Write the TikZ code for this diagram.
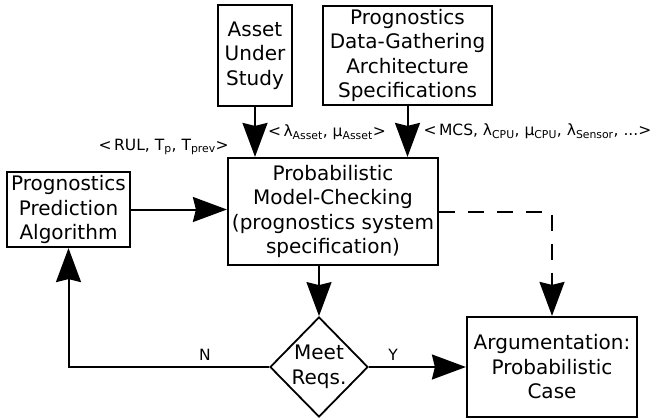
\documentclass[tikz,border=0pt]{standalone}
\usepackage{fontspec}
\setmainfont{DejaVu Sans}
\usetikzlibrary{arrows.meta, shapes.geometric}

\begin{document}
\begin{tikzpicture}[x=1pt, y=-1pt,
    box/.style={draw, line width=2.2pt, align=center, inner sep=1pt,
        font=\fontsize{20}{24.5}\selectfont},
    decision/.style={diamond, draw, line width=1.8pt, align=center, inner sep=0pt,
        font=\fontsize{20}{24.5}\selectfont},
    flow/.style={line width=2pt, -{Stealth[length=34pt, width=25pt, inset=3pt]}},
    lbl/.style={font=\fontsize{15.5}{18}\selectfont, inner sep=1pt}]
    \useasboundingbox (0,0) rectangle (653,418);
    % Inputs
    \node[box, minimum width=74pt, minimum height=101pt] (asset) at (255,55.5) {Asset\\Under\\Study};
    \node[box, minimum width=169pt, minimum height=99pt] (data) at (407.5,55.5) {Prognostics\\Data-Gathering\\Architecture\\Specifications};
    % Model checking and prediction
    \node[box, minimum width=210pt, minimum height=107pt] (pmc) at (333,211.5) {Probabilistic\\Model-Checking\\(prognostics system\\specification)};
    \node[box, minimum width=123pt, minimum height=75pt] (ppa) at (68.5,209.5) {Prognostics\\Prediction\\Algorithm};
    \node[lbl, anchor=south east] (rul) at ([xshift=3pt, yshift=1pt]pmc.north west) {<\,RUL, T\textsubscript{p}, T\textsubscript{prev}>};
    % Decision and result
    \node[decision, minimum width=95pt, minimum height=100pt] (meet) at (319,367) {Meet\\Reqs.};
    \node[box, minimum width=170pt, minimum height=100pt] (arg) at (552,367) {Argumentation:\\Probabilistic\\Case};
    % Connectors
    \draw[flow] (asset.south) -- (asset.south |- pmc.north) node[lbl, midway, right=11pt] {<\,λ\textsubscript{Asset}, μ\textsubscript{Asset}>};
    \draw[flow] (data.south) -- (data.south |- pmc.north) node[lbl, midway, right=14pt] {<\,MCS, λ\textsubscript{CPU}, μ\textsubscript{CPU}, λ\textsubscript{Sensor}, ...>};
    \draw[flow] (ppa.east) -- (ppa.east -| pmc.west);
    \draw[flow] (meet.north |- pmc.south) -- (meet.north);
    \draw[flow] (meet.east) -- (arg.west) node[lbl, pos=0.25, above=5pt] {Y};
    \draw[flow] (meet.west) -| (ppa.south) node[lbl, pos=0.16, above=5pt] {N};
    \draw[flow, dash pattern=on 16pt off 13pt] (pmc.east) -| (arg.north);
\end{tikzpicture}
\end{document}
